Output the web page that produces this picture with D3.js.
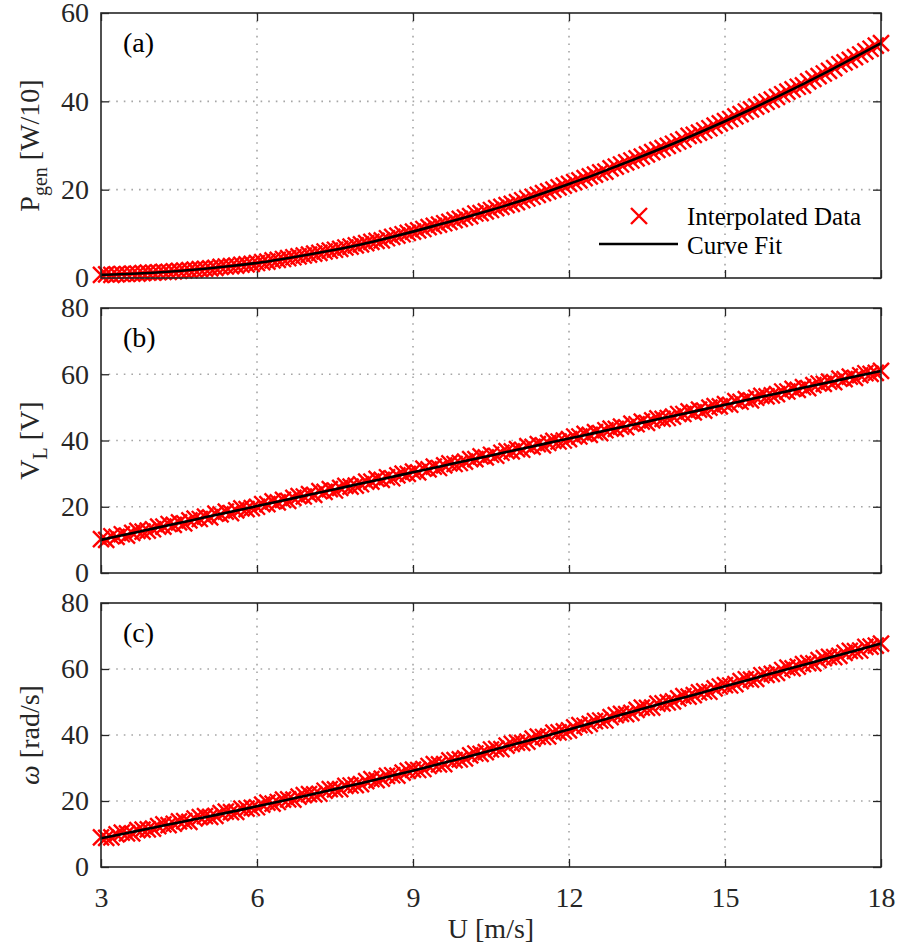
<!DOCTYPE html>
<html>
<head>
<meta charset="utf-8">
<script src="https://cdn.jsdelivr.net/npm/d3@7"></script>
<style>
body { margin: 0; background: #fff; }
svg { display: block; }
svg text { font-family: "Liberation Serif", serif !important; }
</style>
</head>
<body>
<div id="chart"></div>
<script>
// wind speed U [m/s] of the interpolated samples
const windSpeed = [
    3.0, 3.1, 3.2, 3.3, 3.4, 3.5, 3.6, 3.7, 3.8, 3.9,
    4.0, 4.1, 4.2, 4.3, 4.4, 4.5, 4.6, 4.7, 4.8, 4.9,
    5.0, 5.1, 5.2, 5.3, 5.4, 5.5, 5.6, 5.7, 5.8, 5.9,
    6.0, 6.1, 6.2, 6.3, 6.4, 6.5, 6.6, 6.7, 6.8, 6.9,
    7.0, 7.1, 7.2, 7.3, 7.4, 7.5, 7.6, 7.7, 7.8, 7.9,
    8.0, 8.1, 8.2, 8.3, 8.4, 8.5, 8.6, 8.7, 8.8, 8.9,
    9.0, 9.1, 9.2, 9.3, 9.4, 9.5, 9.6, 9.7, 9.8, 9.9,
    10.0, 10.1, 10.2, 10.3, 10.4, 10.5, 10.6, 10.7, 10.8, 10.9,
    11.0, 11.1, 11.2, 11.3, 11.4, 11.5, 11.6, 11.7, 11.8, 11.9,
    12.0, 12.1, 12.2, 12.3, 12.4, 12.5, 12.6, 12.7, 12.8, 12.9,
    13.0, 13.1, 13.2, 13.3, 13.4, 13.5, 13.6, 13.7, 13.8, 13.9,
    14.0, 14.1, 14.2, 14.3, 14.4, 14.5, 14.6, 14.7, 14.8, 14.9,
    15.0, 15.1, 15.2, 15.3, 15.4, 15.5, 15.6, 15.7, 15.8, 15.9,
    16.0, 16.1, 16.2, 16.3, 16.4, 16.5, 16.6, 16.7, 16.8, 16.9,
    17.0, 17.1, 17.2, 17.3, 17.4, 17.5, 17.6, 17.7, 17.8, 17.9,
    18.0
];
// (a) generated power [W/10]
const powerData = [
    0.7, 0.8, 0.7, 0.8, 0.9, 0.9, 1.0, 1.0, 1.1, 1.2,
    1.2, 1.3, 1.4, 1.4, 1.5, 1.6, 1.7, 1.8, 1.9, 2.0,
    2.1, 2.2, 2.3, 2.5, 2.6, 2.7, 2.8, 3.0, 3.1, 3.2,
    3.4, 3.6, 3.7, 4.0, 4.1, 4.3, 4.5, 4.7, 4.9, 5.1,
    5.3, 5.5, 5.7, 6.0, 6.2, 6.4, 6.6, 6.9, 7.1, 7.4,
    7.6, 7.9, 8.2, 8.4, 8.5, 9.0, 9.3, 9.6, 9.9, 10.2,
    10.5, 10.8, 11.1, 11.5, 11.8, 12.1, 12.4, 12.7, 13.1, 13.4,
    13.7, 14.0, 14.6, 14.7, 15.1, 15.4, 15.8, 16.1, 16.5, 16.8,
    17.2, 17.6, 18.0, 18.4, 18.8, 19.2, 19.6, 20.0, 20.5, 20.9,
    21.3, 21.7, 22.1, 22.6, 23.0, 23.4, 23.9, 24.1, 24.8, 25.2,
    25.7, 26.2, 26.6, 27.1, 27.5, 28.0, 28.5, 29.0, 29.4, 29.9,
    30.4, 30.9, 31.4, 32.2, 32.4, 32.9, 33.4, 33.9, 34.5, 35.0,
    35.5, 36.0, 36.6, 37.1, 37.7, 38.2, 38.8, 39.3, 39.9, 40.4,
    41.0, 41.6, 42.2, 42.7, 43.3, 43.6, 44.5, 45.1, 45.7, 46.3,
    46.9, 47.5, 48.4, 48.8, 49.4, 50.0, 50.6, 51.3, 51.9, 52.6,
    53.2
];
// (b) load voltage [V]
const voltageData = [
    10.2, 10.0, 11.1, 10.9, 11.7, 11.3, 12.1, 12.7, 12.5, 12.8,
    13.2, 14.0, 14.0, 14.8, 14.5, 15.3, 15.0, 15.9, 16.4, 16.3,
    17.0, 16.8, 17.9, 17.7, 18.5, 18.1, 18.9, 19.5, 19.3, 19.6,
    20.0, 20.8, 20.8, 21.6, 21.3, 22.1, 21.8, 22.7, 23.2, 23.1,
    23.8, 23.6, 24.7, 24.5, 25.3, 24.9, 25.7, 26.3, 26.1, 26.4,
    26.8, 27.6, 27.6, 28.4, 28.1, 28.9, 28.6, 29.5, 30.0, 29.9,
    30.6, 30.4, 31.5, 31.3, 32.1, 31.7, 32.5, 33.1, 32.9, 33.2,
    33.6, 34.4, 34.4, 35.2, 34.9, 35.7, 35.4, 36.3, 36.8, 36.7,
    37.4, 37.2, 38.3, 38.1, 38.9, 38.5, 39.3, 39.9, 39.7, 40.0,
    40.4, 41.2, 41.2, 42.0, 41.7, 42.5, 42.2, 43.1, 43.6, 43.5,
    44.2, 44.0, 45.1, 44.9, 45.7, 45.3, 46.1, 46.7, 46.5, 46.8,
    47.2, 48.0, 48.0, 48.8, 48.5, 49.3, 49.0, 49.9, 50.4, 50.3,
    51.0, 50.8, 51.9, 51.7, 52.5, 52.1, 52.9, 53.5, 53.3, 53.6,
    54.0, 54.8, 54.8, 55.6, 55.3, 56.1, 55.8, 56.7, 57.2, 57.1,
    57.8, 57.6, 58.7, 58.5, 59.3, 58.9, 59.7, 60.3, 60.1, 60.4,
    61.0
];
// (c) rotor speed [rad/s]
const omegaData = [
    9.0, 8.8, 9.0, 9.9, 10.4, 10.2, 10.2, 11.2, 11.3, 11.4,
    11.6, 12.4, 12.9, 12.7, 13.1, 13.8, 13.9, 13.7, 14.7, 15.1,
    15.4, 15.2, 15.5, 16.3, 16.8, 16.6, 16.7, 17.7, 17.7, 17.9,
    18.1, 18.9, 19.5, 19.2, 19.7, 20.4, 20.5, 20.4, 21.3, 21.8,
    22.1, 22.0, 22.2, 23.1, 23.6, 23.5, 23.6, 24.6, 24.7, 24.8,
    25.1, 26.0, 26.6, 26.3, 26.8, 27.6, 27.8, 27.7, 28.6, 29.1,
    29.5, 29.4, 29.7, 30.6, 31.2, 31.1, 31.2, 32.3, 32.4, 32.6,
    32.9, 33.8, 34.4, 34.3, 34.8, 35.6, 35.8, 35.7, 36.8, 37.3,
    37.7, 37.6, 38.0, 38.9, 39.5, 39.4, 39.6, 40.7, 40.8, 41.1,
    41.4, 42.3, 43.0, 42.8, 43.4, 44.2, 44.4, 44.4, 45.4, 46.0,
    46.4, 46.3, 46.7, 47.6, 48.3, 48.2, 48.3, 49.5, 49.6, 49.9,
    50.2, 51.1, 51.8, 51.6, 52.1, 52.9, 53.2, 53.1, 54.1, 54.7,
    55.1, 55.0, 55.4, 56.3, 56.9, 56.8, 57.0, 58.1, 58.2, 58.5,
    58.8, 59.7, 60.4, 60.2, 60.7, 61.5, 61.8, 61.7, 62.7, 63.3,
    63.7, 63.6, 64.0, 64.9, 65.5, 65.4, 65.6, 66.7, 66.8, 67.1,
    67.7
];

// curve fits
const fitSpeed = [3, 3.5, 4, 4.5, 5, 5.5, 6, 6.5, 7, 7.5, 8, 8.5, 9, 9.5, 10, 10.5,
    11, 11.5, 12, 12.5, 13, 13.5, 14, 14.5, 15, 15.5, 16, 16.5, 17, 17.5, 18];
const powerFit = [0.7, 0.9, 1.2, 1.6, 2.1, 2.7, 3.4, 4.3, 5.3, 6.4, 7.6, 9.0, 10.5, 12.1, 13.7, 15.4,
    17.2, 19.2, 21.3, 23.4, 25.7, 28.0, 30.4, 32.9, 35.5, 38.2, 41.0, 43.9, 46.9, 50.0, 53.2];
const voltageFit = [10.0, 11.7, 13.4, 15.1, 16.8, 18.5, 20.2, 21.9, 23.6, 25.3, 27.0, 28.7, 30.4, 32.1, 33.8, 35.5,
    37.2, 38.9, 40.6, 42.3, 44.0, 45.7, 47.4, 49.1, 50.8, 52.5, 54.2, 55.9, 57.6, 59.3, 61.0];
const omegaFit = [8.7, 10.3, 11.9, 13.5, 15.1, 16.7, 18.4, 20.1, 21.8, 23.6, 25.4, 27.3, 29.2, 31.2, 33.2, 35.3,
    37.4, 39.5, 41.7, 43.9, 46.1, 48.3, 50.5, 52.6, 54.8, 56.9, 59.1, 61.2, 63.4, 65.5, 67.7];

const xTicks = [3, 6, 9, 12, 15, 18];
const powerTicks = [0, 20, 40, 60];
const voltageTicks = [0, 20, 40, 60, 80];
const omegaTicks = [0, 20, 40, 60, 80];
const legendLabels = ["Interpolated Data", "Curve Fit"];

const width = 898;
const height = 952;
const left = 101;
const right = 881;
const axisColor = "#262626";
const tickLen = 8;

const svg = d3.select("#chart").append("svg")
    .attr("width", width)
    .attr("height", height);
svg.append("rect").attr("width", width).attr("height", height).attr("fill", "#fff");

const x = d3.scaleLinear().domain([3, 18]).range([left, right]);

const panels = [
    { tag: "(a)", top: 13, bottom: 278, max: 60, ticks: powerTicks, data: powerData, fit: powerFit,
        label: [["P", 0], ["gen", 1], [" [W/10]", -1]], legend: true },
    { tag: "(b)", top: 308, bottom: 573, max: 80, ticks: voltageTicks, data: voltageData, fit: voltageFit,
        label: [["V", 0], ["L", 1], [" [V]", -1]] },
    { tag: "(c)", top: 603, bottom: 867, max: 80, ticks: omegaTicks, data: omegaData, fit: omegaFit,
        label: [["ω", 2], [" [rad/s]", 0]], xLabels: true }
];

const xMark = "M-8,-8L8,8M-8,8L8,-8";

function styleAxis(g) {
    g.attr("font-family", null).attr("font-size", null);
    g.select(".domain").remove();
    g.selectAll("line").attr("stroke", axisColor).attr("stroke-width", 1.3);
    g.selectAll("text").attr("fill", axisColor).style("font-size", "28px");
}

panels.forEach(p => {
    const y = d3.scaleLinear().domain([0, p.max]).range([p.bottom, p.top]);
    const g = svg.append("g");

    // dotted grid
    g.append("g").selectAll("line")
        .data(xTicks.slice(1, -1))
        .join("line")
        .attr("x1", d => x(d)).attr("x2", d => x(d))
        .attr("y1", p.top).attr("y2", p.bottom);
    g.append("g").selectAll("line")
        .data(p.ticks.slice(1, -1))
        .join("line")
        .attr("x1", left).attr("x2", right)
        .attr("y1", d => y(d)).attr("y2", d => y(d));
    g.selectAll("line")
        .attr("stroke", "#a6a6a6")
        .attr("stroke-width", 1.6)
        .attr("stroke-dasharray", "1.6,6");

    // axes, ticks pointing inward
    g.append("g")
        .attr("transform", `translate(${left},0)`)
        .call(d3.axisLeft(y).tickValues(p.ticks).tickSize(-tickLen).tickPadding(12))
        .call(styleAxis);
    g.append("g")
        .attr("transform", `translate(${right},0)`)
        .call(d3.axisRight(y).tickValues(p.ticks).tickSize(-tickLen).tickFormat(""))
        .call(styleAxis);
    g.append("g")
        .attr("transform", `translate(0,${p.top})`)
        .call(d3.axisTop(x).tickValues(xTicks).tickSize(-tickLen).tickFormat(""))
        .call(styleAxis);
    g.append("g")
        .attr("transform", `translate(0,${p.bottom})`)
        .call(d3.axisBottom(x).tickValues(xTicks).tickSize(-tickLen).tickPadding(20)
            .tickFormat(p.xLabels ? d3.format("d") : ""))
        .call(styleAxis);

    // interpolated data markers
    g.append("g").selectAll("path")
        .data(windSpeed.map((u, i) => [u, p.data[i]]))
        .join("path")
        .attr("d", xMark)
        .attr("transform", d => `translate(${x(d[0])},${y(d[1])})`)
        .attr("fill", "none")
        .attr("stroke", "#ff0000")
        .attr("stroke-width", 2.4);

    // curve fit
    const line = d3.line()
        .x(d => x(d[0]))
        .y(d => y(d[1]))
        .curve(d3.curveMonotoneX);
    g.append("path")
        .datum(fitSpeed.map((u, i) => [u, p.fit[i]]))
        .attr("d", line)
        .attr("fill", "none")
        .attr("stroke", "#000")
        .attr("stroke-width", 2.6);

    // box
    g.append("rect")
        .attr("x", left).attr("y", p.top)
        .attr("width", right - left).attr("height", p.bottom - p.top)
        .attr("fill", "none")
        .attr("stroke", axisColor)
        .attr("stroke-width", 1.6);

    // panel tag
    g.append("text")
        .attr("x", 123)
        .attr("y", p.top + 39)
        .attr("fill", "#000")
        .style("font-size", "28px")
        .text(p.tag);

    // y label
    const lab = g.append("text")
        .attr("transform", `translate(39,${(p.top + p.bottom) / 2}) rotate(-90)`)
        .attr("text-anchor", "middle")
        .attr("fill", axisColor)
        .style("font-size", "28px");
    p.label.forEach(([t, kind]) => {
        const ts = lab.append("tspan").text(t);
        if (kind === 1) ts.attr("dy", 8).style("font-size", "20px");
        if (kind === -1) ts.attr("dy", -8);
        if (kind === 2) ts.style("font-style", "italic");
    });

    if (p.legend) {
        const lg = g.append("g");
        lg.append("path")
            .attr("d", xMark)
            .attr("transform", "translate(639,216)")
            .attr("fill", "none")
            .attr("stroke", "#ff0000")
            .attr("stroke-width", 2.4);
        lg.append("line")
            .attr("x1", 599).attr("x2", 678)
            .attr("y1", 244).attr("y2", 244)
            .attr("stroke", "#000")
            .attr("stroke-width", 2.6);
        lg.selectAll("text")
            .data(legendLabels)
            .join("text")
            .attr("x", 687)
            .attr("y", (d, i) => 225 + i * 29)
            .attr("fill", "#000")
            .style("font-size", "25px")
            .text(d => d);
    }
});

svg.append("text")
    .attr("x", (left + right) / 2)
    .attr("y", 938)
    .attr("text-anchor", "middle")
    .attr("fill", axisColor)
    .style("font-size", "28px")
    .text("U [m/s]");
</script>
</body>
</html>
